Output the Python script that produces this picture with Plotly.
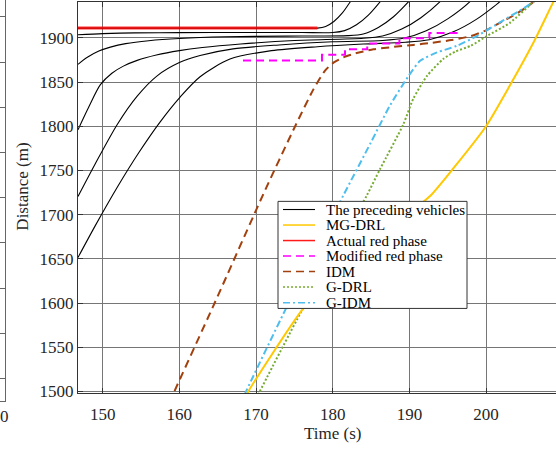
import plotly.graph_objects as go

# ---------------- data (time in s, distance in m) ----------------
# preceding vehicles (queue at the stop line)
veh1_t = [146.78, 170.0, 177.0, 178.0, 179.08, 180.15, 181.23, 182.3, 182.6]
veh1_d = [1911, 1911, 1911, 1911, 1912.9, 1918.5, 1927.9, 1941, 1945]

veh2_t = [146.78, 150.0, 154.2, 160.0, 168.0, 176.0, 180.0, 181.55, 183.1, 184.65, 186.2, 186.6]
veh2_d = [1903.5, 1904.8, 1905.6, 1905.9, 1906.0, 1906.0, 1906.0, 1908.2, 1914.75, 1925.7, 1941, 1945.5]

veh3_t = [146.78, 148.0, 149.5, 151.0, 153.0, 156.0, 160.0, 166.0, 174.0, 182.0, 183.98, 185.95, 187.93, 189.9, 190.3]
veh3_d = [1870, 1878, 1885, 1889.5, 1893.5, 1896.8, 1899.3, 1901.2, 1902, 1902.5, 1904.4, 1911.75, 1923.9, 1941, 1945]

veh4_t = [146.78, 148.2, 149.7, 151.2, 152.7, 154.5, 157.0, 160.0, 163.0, 168.0, 175.0, 184.0,
          186.5, 189.0, 191.5, 194.0, 194.4]
veh4_d = [1796, 1822, 1847, 1860, 1868, 1874.5, 1880.5, 1885.5, 1889, 1893, 1897, 1899.5,
          1902.1, 1909.9, 1922.8, 1941, 1945]

veh5_t = [146.78, 149.0, 151.9, 154.5, 157.1, 160.0, 162.7, 167.0, 173.0, 180.0, 186.5, 189.35, 192.2, 195.05, 197.9, 198.3]
veh5_d = [1720.5, 1757, 1802, 1834, 1857, 1872, 1880, 1887.5, 1892, 1895.5, 1897, 1899.75, 1908, 1921.75, 1941, 1945]

veh6_t = [146.78, 149.0, 151.9, 154.7, 157.5, 160.1, 162.7, 166.6, 172.0, 178.0, 184.0, 189.5, 192.58, 195.65,
          198.73, 201.8, 202.2]
veh6_d = [1651.5, 1687, 1731, 1770, 1805, 1833, 1856, 1876, 1885.5, 1890, 1893, 1895, 1897.9, 1906.5,
          1920.9, 1941, 1945]

vehicles = [(veh1_t, veh1_d), (veh2_t, veh2_d), (veh3_t, veh3_d),
            (veh4_t, veh4_d), (veh5_t, veh5_d), (veh6_t, veh6_d)]

# actual red phase (stop line)
red_t = [146.78, 178.0]
red_d = [1911, 1911]

# modified red phase (stepwise)
mod_t = [168.3, 178.6, 181.6, 184.5, 188.7, 192.6, 196.6]
mod_d = [1874.5, 1881, 1887, 1893.5, 1899.5, 1905.5, 1905.5]

# controlled vehicle trajectories
idm_t = [158.7, 159.35, 164.6, 171.2, 175.1, 177.5, 179.0, 180.1, 181.4, 183.0, 185.3, 188.0, 190.5,
         193.0, 195.5, 198.0, 200.0, 201.8, 203.5, 205.0, 206.2, 206.6]
idm_d = [1487, 1500, 1600, 1728, 1800, 1842, 1863, 1872, 1878, 1882.5, 1887, 1889.8, 1892,
         1894.5, 1897.5, 1902, 1908.5, 1917, 1925, 1933, 1941, 1944]

gidm_t = [168.5, 168.7, 173.8, 181.4, 185.0, 187.5, 189.9, 191.4, 193.6, 196.2, 198.8, 202.3, 204.9, 206.2, 206.6]
gidm_d = [1496, 1500, 1592, 1722, 1782, 1824, 1857, 1874, 1883.5, 1891, 1902, 1920, 1933.5, 1941, 1944]

gdrl_t = [170.3, 170.5, 176.0, 184.4, 186.2, 189.2, 190.5, 192.3, 194.4, 196.0, 198.0, 200.1, 203.1, 206.2, 206.6]
gdrl_d = [1496, 1500, 1592, 1721, 1752, 1802, 1831, 1857, 1876, 1884.5, 1891, 1902, 1917, 1941, 1944]

mgdrl_t = [168.8, 169.0, 176.0, 180.0, 184.0, 188.0, 192.7, 195.7, 200.0, 203.1, 206.2, 208.8, 209.5]
mgdrl_d = [1496, 1500, 1592, 1628, 1660, 1688, 1721, 1752, 1800, 1846, 1895, 1941, 1952]

# axis ticks
x_ticks = [150, 160, 170, 180, 190, 200]
y_ticks = [1500, 1550, 1600, 1650, 1700, 1750, 1800, 1850, 1900]

# legend labels (in the reference's order)
legend_labels = ["The preceding vehicles", "MG-DRL", "Actual red phase", "Modified red phase",
                 "IDM", "G-DRL", "G-IDM"]

# ---------------- styles ----------------
FONT = "Liberation Serif"
W, H = 556, 451
TXT = "#262626"
axis_col = "#333333"
grid_col = "#767676"

styles = {
    "The preceding vehicles": dict(color="black", width=1.1, dash="solid"),
    "MG-DRL": dict(color="#ffc800", width=2, dash="solid"),
    "Actual red phase": dict(color="#ff1a1a", width=1.5, dash="solid"),
    "Modified red phase": dict(color="#ff00ff", width=2, dash="8px,5px"),
    "IDM": dict(color="#a2400e", width=2, dash="8px,5px"),
    "G-DRL": dict(color="#77ac30", width=2, dash="2px,2px"),
    "G-IDM": dict(color="#4dbeee", width=2, dash="7px,3px,2px,3px"),
}

fig = go.Figure()

for i, (t, d) in enumerate(vehicles):
    fig.add_trace(go.Scatter(x=t, y=d, mode="lines", name="The preceding vehicles", showlegend=False,
                             line=dict(color="black", width=1.1, shape="spline", smoothing=0.8)))

fig.add_trace(go.Scatter(x=red_t, y=red_d, mode="lines", name="Actual red phase", showlegend=False,
                         opacity=0.8, line=dict(color="#ff0000", width=3)))

fig.add_trace(go.Scatter(x=mod_t, y=mod_d, mode="lines", name="Modified red phase", showlegend=False,
                         line=dict(color="#ff00ff", width=2, dash="8px,5px", shape="hv")))
fig.add_trace(go.Scatter(x=idm_t, y=idm_d, mode="lines", name="IDM", showlegend=False,
                         line=dict(color="#a2400e", width=2, dash="8px,5px", shape="spline", smoothing=0.6)))
fig.add_trace(go.Scatter(x=gdrl_t, y=gdrl_d, mode="lines", name="G-DRL", showlegend=False,
                         line=dict(color="#77ac30", width=2, dash="2px,2px", shape="spline", smoothing=0.6)))
fig.add_trace(go.Scatter(x=gidm_t, y=gidm_d, mode="lines", name="G-IDM", showlegend=False,
                         line=dict(color="#4dbeee", width=2, dash="7px,3px,2px,3px", shape="spline",
                                   smoothing=0.6)))
fig.add_trace(go.Scatter(x=mgdrl_t, y=mgdrl_d, mode="lines", name="MG-DRL", showlegend=False,
                         line=dict(color="#ffc800", width=2, shape="spline", smoothing=0.6)))

# partial neighbouring axes at the far left edge
fig.add_trace(go.Scatter(x=[], y=[], xaxis="x2", yaxis="y2", showlegend=False))

# ---------------- legend box (drawn as shapes + text) ----------------
LX0, LX1, LY0, LY1 = 278, 467, 205, 314
row0, row_step = 213.3, 15.8
shapes = [dict(type="rect", xref="paper", yref="paper",
               x0=LX0 / W, x1=LX1 / W, y0=1 - LY1 / H, y1=1 - LY0 / H,
               fillcolor="white", line=dict(color=axis_col, width=1), layer="above")]
annotations = []
for k, lab in enumerate(legend_labels):
    yy = 1 - (row0 + k * row_step) / H
    st = styles[lab]
    shapes.append(dict(type="line", xref="paper", yref="paper", x0=283 / W, x1=315 / W, y0=yy, y1=yy,
                       line=dict(color=st["color"], width=min(st["width"], 1.5), dash=st["dash"]),
                       layer="above"))
    annotations.append(dict(text=lab, xref="paper", yref="paper", x=324 / W, y=yy, showarrow=False,
                            xanchor="left", yanchor="middle",
                            font=dict(family=FONT, size=15, color="black")))

annotations += [
    dict(text="Time (s)", xref="paper", yref="paper", x=332.5 / W, y=1 - 441 / H,
         showarrow=False, font=dict(family=FONT, size=17, color=TXT),
         xanchor="center", yanchor="middle"),
    dict(text="Distance (m)", xref="paper", yref="paper", x=23 / W, y=1 - 190 / H,
         showarrow=False, textangle=-90, font=dict(family=FONT, size=17, color=TXT),
         xanchor="center", yanchor="middle"),
    dict(text="0", xref="paper", yref="paper", x=0, y=1 - 424 / H,
         showarrow=False, font=dict(family=FONT, size=17, color=TXT),
         xanchor="left", yanchor="middle", xshift=-2),
]

fig.update_layout(
    width=W, height=H,
    margin=dict(l=0, r=0, t=0, b=0),
    paper_bgcolor="white", plot_bgcolor="white",
    font=dict(family=FONT, size=17, color=TXT),
    showlegend=False,
    xaxis=dict(domain=[78 / W, 1.0], range=[146.78, 209.12], tickvals=x_ticks,
               showgrid=True, gridcolor=grid_col, gridwidth=1, zeroline=False,
               showline=True, linecolor=axis_col, linewidth=1, mirror="ticks",
               ticks="inside", ticklen=5, tickcolor=axis_col, ticklabelstandoff=6,
               tickfont=dict(family=FONT, size=17, color=TXT), anchor="y"),
    yaxis=dict(domain=[1 - 400 / H, 1 - 2 / H], range=[1498.3, 1940.6], tickvals=y_ticks,
               showgrid=True, gridcolor=grid_col, gridwidth=1, zeroline=False,
               showline=True, linecolor=axis_col, linewidth=1,
               ticks="inside", ticklen=5, tickcolor=axis_col,
               tickfont=dict(family=FONT, size=17, color=TXT), anchor="x"),
    xaxis2=dict(domain=[0, 5 / W], range=[0, 1], showgrid=False, zeroline=False,
                showticklabels=False, showline=True, linecolor="#666666", anchor="y2"),
    yaxis2=dict(domain=[1 - 408 / H, 1.0], range=[0, 408 / 46], side="right",
                tick0=0.4935, dtick=1, ticks="inside", ticklen=5, tickcolor="#666666",
                showgrid=False, zeroline=False, showticklabels=False,
                showline=True, linecolor="#666666", anchor="x2"),
    shapes=shapes,
    annotations=annotations,
)

fig.write_html("out.html")
